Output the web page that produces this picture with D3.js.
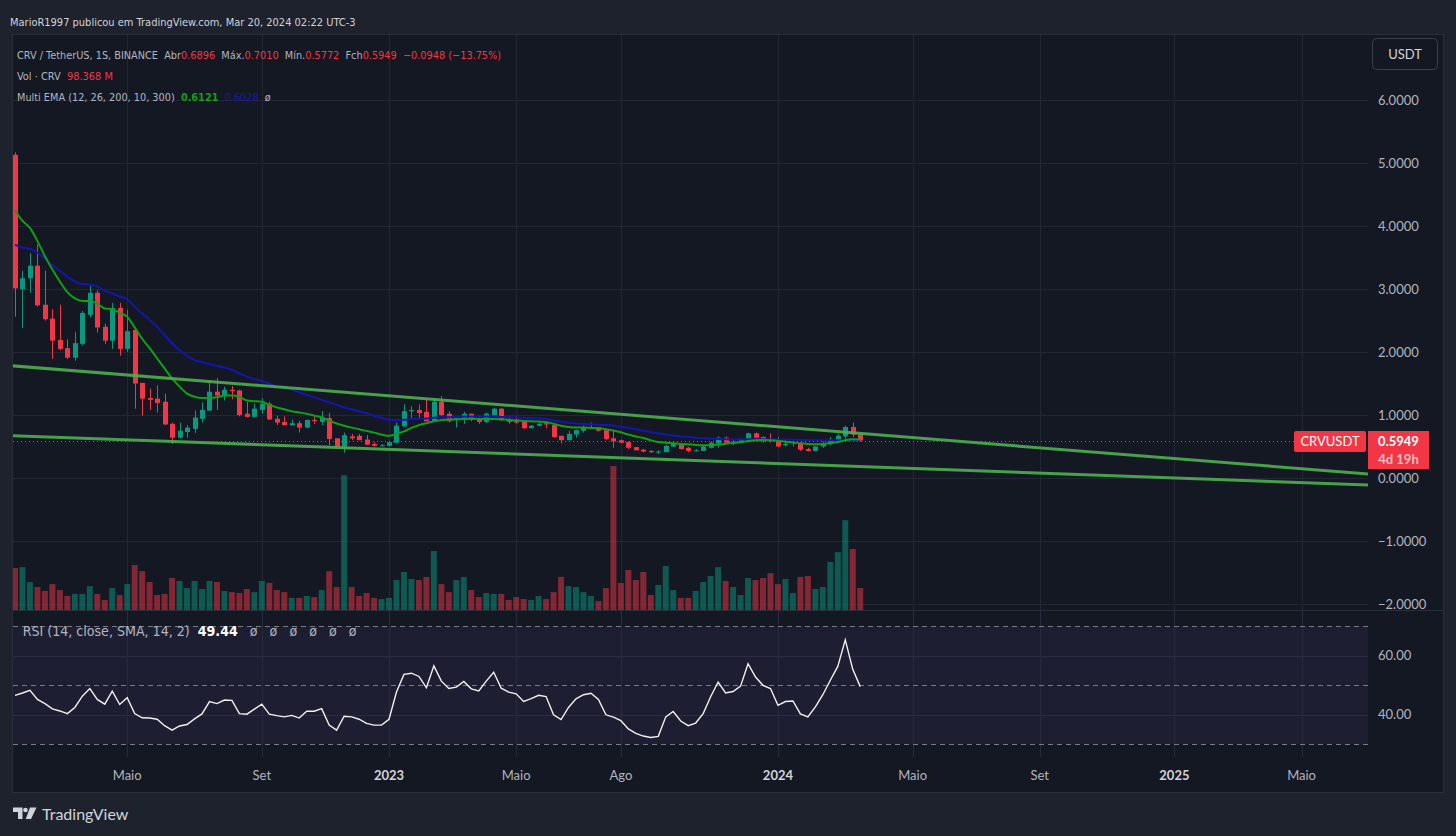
<!DOCTYPE html>
<html>
<head>
<meta charset="utf-8">
<script src="https://cdn.jsdelivr.net/npm/d3@7"></script>
<style>
  html, body { margin: 0; padding: 0; background: #1e222d; }
  svg { display: block; font-family: Lato, "Noto Sans", sans-serif; }
  text { white-space: pre; }
  .legend { font-family: "Liberation Sans Narrow", "DejaVu Sans Condensed", Lato, sans-serif; }
</style>
</head>
<body>
<svg id="chart" width="1456" height="836"></svg>
<script>
// weekly candles, CRV/USDT (Binance), first week starts on this Monday
const startWeek = "2022-01-17";

const openP = [
  5.13, 3.00, 3.17, 3.37, 2.75, 2.53, 2.19, 2.06, 1.91, 2.13,
  2.59, 2.94, 2.40, 2.18, 2.70, 2.05, 2.35, 1.51, 1.27, 1.26,
  1.21, 0.86, 0.64, 0.73, 0.78, 0.94, 1.07, 1.37, 1.31, 1.40,
  1.39, 1.02, 0.97, 1.08, 1.18, 0.94, 0.89, 0.84, 0.87, 0.80,
  0.92, 0.89, 0.95, 0.63, 0.50, 0.66, 0.67, 0.61, 0.54, 0.51,
  0.51, 0.56, 0.82, 1.06, 1.08, 1.05, 0.90, 1.21, 1.02, 0.93,
  0.92, 1.02, 0.93, 0.89, 1.00, 1.10, 0.93, 0.91, 0.89, 0.79,
  0.83, 0.87, 0.84, 0.67, 0.60, 0.69, 0.75, 0.80, 0.81, 0.76,
  0.63, 0.60, 0.57, 0.49, 0.45, 0.43, 0.41, 0.41, 0.50, 0.55,
  0.48, 0.43, 0.43, 0.48, 0.55, 0.64, 0.57, 0.56, 0.59, 0.71,
  0.65, 0.61, 0.60, 0.52, 0.55, 0.55, 0.46, 0.43, 0.50, 0.55,
  0.60, 0.66, 0.81, 0.6896
];
const highP = [
  5.17, 3.29, 3.57, 3.71, 3.29, 2.68, 2.75, 2.20, 2.32, 2.65,
  3.05, 2.98, 2.45, 2.78, 2.78, 2.67, 2.37, 1.51, 1.42, 1.47,
  1.34, 0.88, 0.88, 0.84, 1.07, 1.20, 1.54, 1.59, 1.45, 1.46,
  1.40, 1.21, 1.18, 1.27, 1.21, 0.99, 0.98, 0.93, 0.91, 0.93,
  0.98, 1.06, 1.03, 0.63, 0.72, 0.70, 0.70, 0.68, 0.57, 0.54,
  0.58, 0.88, 1.17, 1.14, 1.17, 1.25, 1.25, 1.30, 1.06, 0.98,
  1.05, 1.02, 0.96, 1.04, 1.11, 1.11, 0.98, 0.98, 0.89, 0.84,
  0.88, 0.90, 0.84, 0.67, 0.75, 0.77, 0.83, 0.88, 0.81, 0.76,
  0.75, 0.61, 0.58, 0.49, 0.46, 0.44, 0.44, 0.53, 0.57, 0.55,
  0.49, 0.46, 0.51, 0.58, 0.66, 0.66, 0.61, 0.63, 0.72, 0.72,
  0.66, 0.71, 0.65, 0.60, 0.59, 0.57, 0.48, 0.50, 0.58, 0.65,
  0.70, 0.83, 0.88, 0.7010
];
const lowP = [
  2.56, 2.38, 2.94, 2.72, 2.50, 1.89, 2.03, 1.89, 1.86, 2.10,
  2.55, 2.31, 2.13, 2.05, 1.94, 2.00, 1.10, 0.99, 1.08, 1.04,
  0.84, 0.54, 0.63, 0.64, 0.71, 0.88, 1.06, 1.08, 1.23, 1.25,
  0.98, 0.96, 0.96, 1.02, 0.92, 0.84, 0.83, 0.83, 0.72, 0.79,
  0.86, 0.84, 0.52, 0.49, 0.40, 0.60, 0.60, 0.52, 0.50, 0.50,
  0.50, 0.55, 0.81, 0.95, 0.95, 0.90, 0.90, 0.98, 0.88, 0.80,
  0.86, 0.90, 0.86, 0.87, 0.98, 0.90, 0.86, 0.86, 0.78, 0.79,
  0.82, 0.79, 0.64, 0.55, 0.60, 0.64, 0.72, 0.79, 0.74, 0.60,
  0.48, 0.55, 0.46, 0.44, 0.41, 0.40, 0.38, 0.41, 0.49, 0.45,
  0.41, 0.42, 0.43, 0.47, 0.48, 0.54, 0.52, 0.55, 0.59, 0.62,
  0.56, 0.56, 0.49, 0.50, 0.50, 0.43, 0.42, 0.42, 0.48, 0.52,
  0.58, 0.62, 0.65, 0.5772
];
const closeP = [
  3.01, 3.17, 3.37, 2.74, 2.52, 2.18, 2.05, 1.91, 2.14, 2.62,
  2.94, 2.39, 2.18, 2.70, 2.05, 2.33, 1.50, 1.26, 1.24, 1.19,
  0.85, 0.64, 0.75, 0.80, 0.96, 1.08, 1.37, 1.31, 1.40, 1.38,
  1.00, 0.97, 1.10, 1.18, 0.93, 0.88, 0.84, 0.87, 0.80, 0.92,
  0.91, 0.96, 0.62, 0.50, 0.68, 0.63, 0.60, 0.53, 0.51, 0.52,
  0.57, 0.83, 1.06, 1.08, 1.03, 0.90, 1.21, 1.00, 0.90, 0.95,
  1.02, 0.92, 0.89, 1.02, 1.10, 0.92, 0.89, 0.88, 0.79, 0.83,
  0.86, 0.85, 0.65, 0.60, 0.70, 0.76, 0.80, 0.81, 0.75, 0.62,
  0.58, 0.56, 0.48, 0.44, 0.42, 0.41, 0.42, 0.51, 0.55, 0.46,
  0.43, 0.44, 0.50, 0.56, 0.64, 0.56, 0.58, 0.62, 0.71, 0.64,
  0.61, 0.60, 0.50, 0.54, 0.57, 0.45, 0.43, 0.50, 0.55, 0.60,
  0.67, 0.81, 0.69, 0.5949
];
// volume, millions of CRV
const volumeM = [
  188, 192, 125, 103, 85, 116, 89, 63, 72, 72,
  107, 72, 45, 98, 67, 116, 201, 174, 125, 67,
  72, 143, 130, 98, 130, 94, 130, 125, 85, 80,
  76, 94, 80, 130, 121, 89, 80, 54, 54, 63,
  58, 89, 174, 103, 603, 103, 63, 76, 54, 49,
  54, 134, 170, 139, 134, 148, 264, 116, 80, 134,
  148, 89, 58, 76, 72, 72, 45, 58, 49, 45,
  63, 49, 80, 148, 107, 103, 80, 63, 40, 98,
  644, 121, 179, 134, 170, 67, 112, 197, 89, 54,
  54, 85, 125, 152, 192, 130, 103, 67, 143, 134,
  143, 165, 116, 139, 76, 148, 152, 94, 103, 215,
  259, 402, 273, 98.368
];
const ema12 = [
  4.25, 4.08, 3.97, 3.76, 3.52, 3.31, 3.12, 2.95, 2.85, 2.81,
  2.81, 2.77, 2.69, 2.68, 2.62, 2.56, 2.39, 2.21, 2.06, 1.90,
  1.74, 1.58, 1.45, 1.34, 1.29, 1.27, 1.27, 1.28, 1.31, 1.31,
  1.29, 1.23, 1.22, 1.21, 1.16, 1.12, 1.09, 1.06, 1.04, 1.02,
  0.99, 0.965, 0.91, 0.865, 0.83, 0.80, 0.775, 0.745, 0.72, 0.69,
  0.67, 0.70, 0.74, 0.795, 0.84, 0.87, 0.90, 0.92, 0.925, 0.93,
  0.935, 0.935, 0.935, 0.935, 0.935, 0.93, 0.925, 0.915, 0.905, 0.90,
  0.895, 0.89, 0.86, 0.83, 0.81, 0.80, 0.80, 0.795, 0.79, 0.775,
  0.755, 0.725, 0.69, 0.66, 0.635, 0.60, 0.57, 0.56, 0.55, 0.54,
  0.535, 0.525, 0.52, 0.52, 0.53, 0.545, 0.555, 0.57, 0.585, 0.60,
  0.605, 0.60, 0.59, 0.575, 0.565, 0.55, 0.54, 0.535, 0.54, 0.55,
  0.57, 0.60, 0.615, 0.6121
];
const ema26 = [
  3.70, 3.66, 3.64, 3.58, 3.48, 3.38, 3.29, 3.20, 3.12, 3.08,
  3.07, 3.04, 2.97, 2.93, 2.88, 2.84, 2.72, 2.61, 2.51, 2.40,
  2.27, 2.14, 2.03, 1.94, 1.87, 1.84, 1.81, 1.78, 1.75, 1.72,
  1.66, 1.61, 1.57, 1.54, 1.50, 1.45, 1.44, 1.40, 1.36, 1.32,
  1.28, 1.24, 1.20, 1.16, 1.12, 1.09, 1.06, 1.03, 0.99, 0.955,
  0.925, 0.92, 0.925, 0.935, 0.94, 0.945, 0.955, 0.96, 0.965, 0.97,
  0.975, 0.975, 0.975, 0.975, 0.975, 0.97, 0.965, 0.96, 0.955, 0.95,
  0.945, 0.935, 0.915, 0.895, 0.875, 0.865, 0.86, 0.855, 0.845, 0.84,
  0.83, 0.815, 0.795, 0.775, 0.75, 0.73, 0.71, 0.69, 0.675, 0.66,
  0.65, 0.64, 0.63, 0.625, 0.62, 0.615, 0.612, 0.612, 0.614, 0.614,
  0.614, 0.614, 0.612, 0.61, 0.607, 0.605, 0.602, 0.60, 0.598, 0.598,
  0.598, 0.60, 0.605, 0.6028
];
const rsi14 = [
  46.5, 47.3, 48.2, 45.1, 43.7, 41.9, 41.2, 40.3, 42.4, 46.2,
  48.8, 45.1, 43.5, 47.9, 43.4, 45.7, 40.3, 38.9, 38.8, 38.4,
  36.2, 34.7, 36.1, 36.6, 38.5, 40.2, 44.4, 43.7, 44.9, 44.8,
  40.3, 40.1, 41.8, 43.5, 40.1, 39.6, 39.2, 39.7, 38.8, 41.1,
  41.1, 42.0, 36.4, 34.7, 39.4, 39.2, 38.4, 37.0, 36.4, 36.4,
  38.4, 47.6, 53.6, 54.0, 52.9, 49.1, 56.5, 51.3, 48.8, 49.3,
  51.2, 48.7, 48.0, 51.3, 54.3, 48.9, 47.6, 47.0, 44.4, 45.4,
  46.5, 46.1, 39.9, 38.3, 42.4, 45.3, 46.7, 47.2, 45.1, 39.9,
  39.1, 37.9, 35.1, 33.6, 32.7, 32.2, 32.6, 39.2, 41.0, 37.8,
  36.2, 37.1, 40.3, 46.0, 51.0, 47.3, 47.8, 49.6, 57.2, 52.7,
  49.9, 48.8, 43.1, 44.4, 44.6, 40.2, 39.2, 42.6, 46.7, 51.6,
  56.3, 65.3, 55.3, 49.44
];

// drawn trend lines (date, price)
const trendUpper = [["2022-01-15", 1.78], ["2025-07-07", 0.063]];
const trendLower = [["2022-01-15", 0.672], ["2025-07-07", -0.111]];

const priceTicks = [6, 5, 4, 3, 2, 1, 0, -1, -2];
const rsiTicks = [60, 40];
const rsiBands = [70, 50, 30];
const timeTickDates = ["2022-05-02", "2022-09-05", "2023-01-02", "2023-05-01", "2023-08-07",
                       "2024-01-01", "2024-05-06", "2024-09-02", "2025-01-06", "2025-05-05"];
const timeTickLabels = ["Maio", "Set", "2023", "Maio", "Ago", "2024", "Maio", "Set", "2025", "Maio"];

// ---------------------------------------------------------------
const svg = d3.select("#chart");
const parse = d3.utcParse("%Y-%m-%d");
const P = { left: 13, right: 1368, top: 35, priceBottom: 610, rsiTop: 611, rsiBottom: 757 };
const barStep = 7.48;

const t0 = parse(startWeek);
const dates = openP.map((d, i) => d3.utcDay.offset(t0, 7 * i));
const last = dates.length - 1;

const x = d3.scaleUtc().domain([t0, dates[last]]).range([15, 15 + last * barStep]);
const y = d3.scaleLinear().domain([-2, 6]).range([604, 100]);
const yVol = d3.scaleLinear().domain([0, 680]).range([P.priceBottom, 458]);
const yRsi = d3.scaleLinear().domain([30, 70]).range([744, 626]);

const upCol = "#089981", downCol = "#f23645";
const gridCol = "#232733";
const textCol = "#b2b5be";

// backgrounds
svg.append("rect").attr("width", 1456).attr("height", 836).attr("fill", "#1e222d");
svg.append("rect").attr("x", 12.5).attr("y", 34.5).attr("width", 1431).attr("height", 758)
  .attr("fill", "#141823").attr("stroke", "#2a2e39");

const defs = svg.append("defs");
defs.append("clipPath").attr("id", "clip-price").append("rect")
  .attr("x", P.left).attr("y", P.top).attr("width", P.right - P.left).attr("height", P.priceBottom - P.top);
defs.append("clipPath").attr("id", "clip-rsi").append("rect")
  .attr("x", P.left).attr("y", P.rsiTop).attr("width", P.right - P.left).attr("height", P.rsiBottom - P.rsiTop);

// RSI band
svg.append("rect")
  .attr("x", P.left).attr("width", P.right - P.left)
  .attr("y", yRsi(70)).attr("height", yRsi(30) - yRsi(70))
  .attr("fill", "rgba(126,87,194,0.1)");

// grid
const grid = svg.append("g").attr("stroke", gridCol).attr("stroke-width", 1);
priceTicks.forEach(v => {
  grid.append("line").attr("x1", P.left).attr("x2", P.right)
    .attr("y1", Math.round(y(v)) + 0.5).attr("y2", Math.round(y(v)) + 0.5);
});
rsiTicks.forEach(v => {
  grid.append("line").attr("x1", P.left).attr("x2", P.right)
    .attr("y1", Math.round(yRsi(v)) + 0.5).attr("y2", Math.round(yRsi(v)) + 0.5)
    .attr("stroke", "#2e2c45");
});
timeTickDates.forEach(d => {
  const xx = Math.round(x(parse(d))) + 0.5;
  grid.append("line").attr("x1", xx).attr("x2", xx).attr("y1", P.top).attr("y2", P.priceBottom);
  grid.append("line").attr("x1", xx).attr("x2", xx).attr("y1", P.rsiTop).attr("y2", P.rsiBottom)
    .attr("stroke", "#2a2a3e");
});

// pane separator
svg.append("line").attr("x1", 12).attr("x2", 1443)
  .attr("y1", P.priceBottom + 0.5).attr("y2", P.priceBottom + 0.5).attr("stroke", "#2a2e39");

// RSI dashed band lines
rsiBands.forEach(v => {
  svg.append("line").attr("x1", P.left).attr("x2", P.right)
    .attr("y1", Math.round(yRsi(v)) + 0.5).attr("y2", Math.round(yRsi(v)) + 0.5)
    .attr("stroke", "#787b86").attr("stroke-dasharray", "5 4");
});

// ---------------- price pane ----------------
const price = svg.append("g").attr("clip-path", "url(#clip-price)");

// volume
price.append("g").selectAll("rect").data(volumeM).join("rect")
  .attr("x", (d, i) => x(dates[i]) - 3)
  .attr("width", 6)
  .attr("y", d => yVol(d))
  .attr("height", d => yVol(0) - yVol(d))
  .attr("fill", (d, i) => closeP[i] >= openP[i] ? "rgba(8,153,129,0.5)" : "rgba(242,54,69,0.5)");

// candles
const candles = price.append("g").selectAll("g").data(openP).join("g");
candles.append("line")
  .attr("x1", (d, i) => Math.round(x(dates[i])) + 0.5)
  .attr("x2", (d, i) => Math.round(x(dates[i])) + 0.5)
  .attr("y1", (d, i) => y(highP[i]))
  .attr("y2", (d, i) => y(lowP[i]))
  .attr("stroke", (d, i) => closeP[i] >= openP[i] ? upCol : downCol);
candles.append("rect")
  .attr("x", (d, i) => Math.round(x(dates[i])) - 2)
  .attr("width", 5)
  .attr("y", (d, i) => y(Math.max(openP[i], closeP[i])))
  .attr("height", (d, i) => Math.max(1, Math.abs(y(openP[i]) - y(closeP[i]))))
  .attr("fill", (d, i) => closeP[i] >= openP[i] ? upCol : downCol);

// EMAs
const emaLine = d3.line().x((d, i) => x(dates[i])).y(d => y(d)).curve(d3.curveMonotoneX);
price.append("path").datum(ema26).attr("d", emaLine)
  .attr("fill", "none").attr("stroke", "#1515b0").attr("stroke-width", 2);
price.append("path").datum(ema12).attr("d", emaLine)
  .attr("fill", "none").attr("stroke", "#11a011").attr("stroke-width", 2);

// trend lines
const trendLine = d3.line().x(d => x(parse(d[0]))).y(d => y(d[1]));
[trendUpper, trendLower].forEach(t => {
  price.append("path").datum(t).attr("d", trendLine)
    .attr("fill", "none").attr("stroke", "#4caf50").attr("stroke-width", 3)
    .attr("stroke-opacity", 0.9);
});

// last price line
const lastY = Math.round(y(closeP[last])) + 0.5;
svg.append("line").attr("x1", P.left).attr("x2", 1294).attr("y1", lastY).attr("y2", lastY)
  .attr("stroke", downCol).attr("stroke-dasharray", "1 3").attr("stroke-width", 1);

// ---------------- RSI pane ----------------
const rsiG = svg.append("g").attr("clip-path", "url(#clip-rsi)");
rsiG.append("path").datum(rsi14)
  .attr("d", d3.line().x((d, i) => x(dates[i])).y(d => yRsi(d)))
  .attr("fill", "none").attr("stroke", "#f0f0f0").attr("stroke-width", 1.4);

// ---------------- axes ----------------
const axisFont = 13;
svg.append("g").selectAll("text").data(priceTicks).join("text")
  .attr("x", 1378).attr("y", d => y(d)).attr("dy", "0.35em")
  .attr("fill", textCol).attr("font-size", axisFont)
  .text(d => d3.format(".4f")(d).replace("-", "−"));

svg.append("g").selectAll("text").data(rsiTicks).join("text")
  .attr("x", 1378).attr("y", d => yRsi(d)).attr("dy", "0.35em")
  .attr("fill", textCol).attr("font-size", axisFont)
  .text(d => d3.format(".2f")(d));

svg.append("g").selectAll("text").data(timeTickDates).join("text")
  .attr("x", d => x(parse(d))).attr("y", 780)
  .attr("text-anchor", "middle").attr("font-size", axisFont)
  .attr("fill", (d, i) => /^\d{4}$/.test(timeTickLabels[i]) ? "#d1d4dc" : textCol)
  .attr("font-weight", (d, i) => /^\d{4}$/.test(timeTickLabels[i]) ? "bold" : "normal")
  .text((d, i) => timeTickLabels[i]);

// currency button
svg.append("rect").attr("x", 1372.5).attr("y", 38.5).attr("width", 65).attr("height", 31).attr("rx", 4)
  .attr("fill", "#141823").attr("stroke", "#3b3f4a");
svg.append("text").attr("x", 1405).attr("y", 59).attr("text-anchor", "middle")
  .attr("fill", "#d1d4dc").attr("font-size", 13).text("USDT");

// price tags
svg.append("rect").attr("x", 1294).attr("y", 431).attr("width", 72).attr("height", 21).attr("rx", 2).attr("fill", downCol);
svg.append("text").attr("x", 1330).attr("y", 446).attr("text-anchor", "middle")
  .attr("fill", "#fff").attr("font-size", 13).text("CRVUSDT");
svg.append("rect").attr("x", 1368).attr("y", 431).attr("width", 61).attr("height", 38).attr("fill", downCol);
svg.append("text").attr("x", 1398.5).attr("y", 446).attr("text-anchor", "middle")
  .attr("fill", "#fff").attr("font-size", 13).attr("font-weight", "bold").text(d3.format(".4f")(closeP[last]));
svg.append("text").attr("x", 1398.5).attr("y", 464).attr("text-anchor", "middle")
  .attr("fill", "rgba(255,255,255,0.7)").attr("font-size", 13).attr("font-weight", "bold").text("4d 19h");

// ---------------- legends ----------------
// one text per line with coloured tspans; font size tuned so the line
// takes the width it has in the reference (no glyph squeezing)
function legend(xx, yy, parts, width, size = 13) {
  const t = svg.append("text").attr("class", "legend").attr("x", xx).attr("y", yy).attr("font-size", size);
  parts.forEach(p => t.append("tspan").attr("fill", p[1]).attr("font-weight", p[2] || "normal").text(p[0]));
  const n = t.node().getComputedTextLength();
  if (width) t.attr("font-size", Math.max(10, Math.min(14.5, size * width / n)));
  return t;
}
const red = "#f23645";
legend(10, 26, [["MarioR1997 publicou em TradingView.com, Mar 20, 2024 02:22 UTC-3", "#d1d4dc"]], 346, 14);

legend(17, 59, [
  ["CRV / TetherUS, 1S, BINANCE  Abr", textCol], ["0.6896", red],
  ["  Máx.", textCol], ["0.7010", red],
  ["  Mín.", textCol], ["0.5772", red],
  ["  Fch", textCol], ["0.5949", red],
  ["  −0.0948 (−13.75%)", red]
], 485);

legend(17, 80, [["Vol · CRV  ", textCol], ["98.368 M", red]], 96);

legend(17, 101, [
  ["Multi EMA (12, 26, 200, 10, 300)  ", textCol],
  [d3.format(".4f")(ema12[last]), "#11a011", "bold"], ["  ", textCol],
  [d3.format(".4f")(ema26[last]), "#1a1aa8"], ["  ø", textCol]
], 254);

legend(22.7, 636, [
  ["RSI (14, close, SMA, 14, 2)  ", textCol],
  [d3.format(".2f")(rsi14[last]), "#ffffff", "bold"],
  ["   ø   ø   ø   ø   ø   ø", textCol]
], 334);

// ---------------- logo ----------------
const logo = svg.append("g").attr("fill", "#d1d4dc");
logo.append("path").attr("d", "M13,807.5h9.5v11.5h-4.5v-7h-5z");
logo.append("circle").attr("cx", 25.5).attr("cy", 810).attr("r", 2.3);
logo.append("path").attr("d", "M30,807.5h6.5l-5.5,11.5h-5.3z");
svg.append("text").attr("x", 42).attr("y", 820).attr("fill", "#d1d4dc")
  .attr("font-size", 16).text("TradingView");
</script>
</body>
</html>
